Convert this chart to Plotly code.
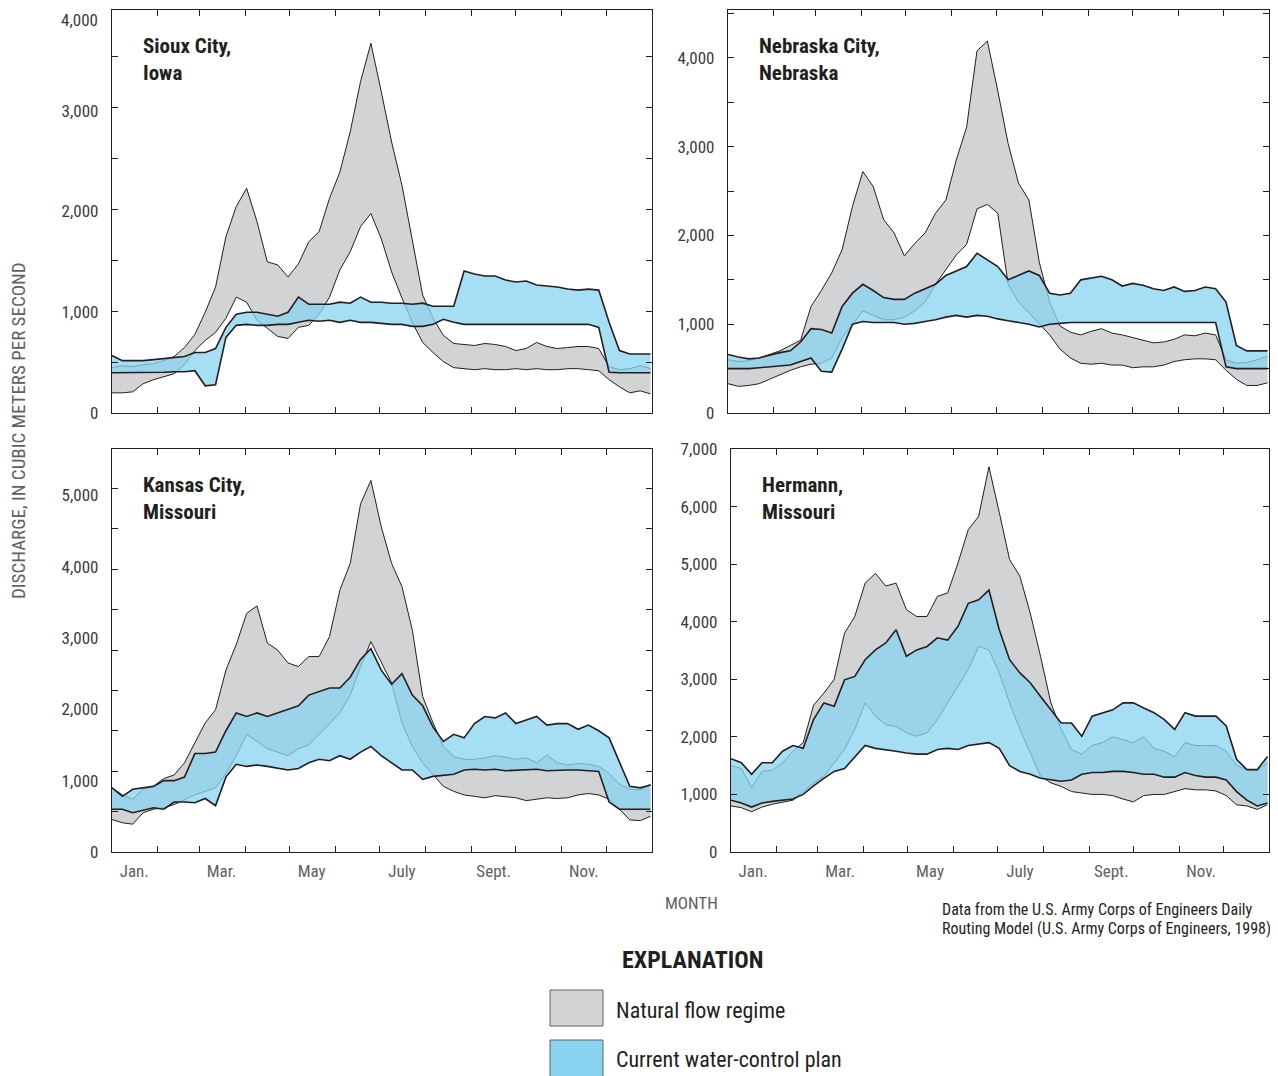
import plotly.graph_objects as go

# ---------------- data (day of year, weekly readings, cubic meters per second) ----------------
days = list(range(0, 365, 7))  # 53 readings

month_starts = [0, 31, 59, 90, 120, 151, 181, 212, 243, 273, 304, 334, 365]
month_label_days = [15, 74, 135, 196, 258, 319]
month_labels = ["Jan.", "Mar.", "May", "July", "Sept.", "Nov."]

# Sioux City, Iowa
sioux_nat_low = [200, 200, 210, 290, 330, 360, 390, 480, 620, 720,
                 800, 940, 1150, 1100, 920, 840, 760, 740, 850, 870,
                 980, 1150, 1420, 1600, 1850, 1980, 1730, 1400, 1140, 900,
                 700, 600, 510, 450, 440, 430, 440, 430, 430, 440,
                 430, 440, 430, 430, 440, 440, 430, 420, 330, 260,
                 200, 220, 190]
sioux_nat_high = [450, 470, 460, 480, 490, 520, 560, 650, 780, 1000,
                  1250, 1750, 2050, 2230, 1900, 1500, 1470, 1350, 1480, 1700,
                  1800, 2130, 2390, 2790, 3290, 3670, 3190, 2690, 2260, 1730,
                  1170, 940, 770, 690, 680, 670, 690, 680, 660, 620,
                  640, 700, 660, 640, 650, 660, 660, 640, 460, 430,
                  440, 470, 440]
sioux_cur_low = [400, 400, 400, 400, 400, 405, 410, 410, 420, 270,
                 280, 750, 870, 880, 870, 870, 880, 880, 900, 920,
                 910, 920, 900, 920, 900, 900, 890, 880, 880, 860,
                 860, 880, 930, 900, 880, 880, 880, 880, 880, 880,
                 880, 880, 880, 880, 880, 880, 880, 850, 405, 400,
                 400, 400, 400]
sioux_cur_high = [570, 520, 520, 520, 530, 540, 550, 560, 600, 600,
                  640, 850, 980, 1000, 1000, 980, 960, 1000, 1150, 1080,
                  1080, 1080, 1100, 1090, 1150, 1100, 1100, 1090, 1090, 1080,
                  1090, 1060, 1060, 1060, 1410, 1380, 1360, 1360, 1320, 1300,
                  1310, 1270, 1260, 1250, 1230, 1220, 1230, 1220, 900, 620,
                  585, 585, 585]

# Nebraska City, Nebraska
nebr_nat_low = [330, 300, 310, 330, 380, 430, 480, 520, 550, 560,
                620, 850, 1000, 1150, 1100, 1050, 1050, 1080, 1150, 1250,
                1450, 1620, 1780, 1900, 2300, 2350, 2250, 1450, 1250, 1130,
                1000, 880, 720, 620, 560, 550, 560, 540, 540, 510,
                520, 520, 540, 580, 600, 610, 610, 600, 480, 380,
                310, 310, 340]
nebr_nat_high = [600, 580, 590, 620, 660, 700, 760, 820, 1200, 1380,
                 1580, 1840, 2330, 2720, 2550, 2180, 2030, 1770, 1910, 2030,
                 2250, 2400, 2850, 3220, 4080, 4190, 3630, 3035, 2590, 2400,
                 1700, 1250, 980, 910, 880, 920, 950, 900, 880, 850,
                 820, 790, 800, 830, 880, 870, 900, 880, 600, 560,
                 570, 600, 640]
nebr_cur_low = [500, 500, 500, 510, 520, 530, 540, 580, 620, 470,
                460, 720, 1000, 1030, 1020, 1020, 1020, 1000, 1010, 1030,
                1050, 1080, 1100, 1080, 1100, 1090, 1060, 1040, 1020, 1000,
                970, 1000, 1010, 1020, 1020, 1020, 1020, 1020, 1020, 1020,
                1020, 1020, 1020, 1020, 1020, 1020, 1020, 1020, 520, 500,
                500, 500, 500]
nebr_cur_high = [660, 630, 610, 620, 650, 680, 700, 800, 950, 940,
                 900, 1200, 1350, 1450, 1380, 1300, 1280, 1280, 1350, 1400,
                 1450, 1550, 1600, 1650, 1800, 1720, 1650, 1500, 1550, 1600,
                 1550, 1350, 1330, 1350, 1500, 1520, 1540, 1500, 1430, 1460,
                 1440, 1400, 1380, 1420, 1370, 1380, 1420, 1400, 1250, 760,
                 700, 700, 700]

# Kansas City, Missouri
kc_nat_low = [455, 410, 390, 550, 600, 620, 665, 735, 800, 850,
              900, 1100, 1350, 1650, 1550, 1450, 1400, 1350, 1450, 1500,
              1650, 1800, 1950, 2200, 2600, 2950, 2650, 2370, 1810, 1480,
              1250, 1080, 920, 850, 800, 780, 760, 790, 770, 760,
              720, 740, 760, 750, 760, 800, 820, 800, 740, 600,
              450, 440, 500]
kc_nat_high = [900, 800, 740, 880, 920, 1030, 1080, 1250, 1530, 1810,
               1995, 2550, 2910, 3345, 3450, 2930, 2830, 2650, 2600, 2740,
               2740, 3020, 3670, 4045, 4880, 5210, 4560, 4045, 3720, 3110,
               2180, 1810, 1480, 1340, 1300, 1300, 1320, 1350, 1330, 1300,
               1320, 1250, 1360, 1250, 1220, 1240, 1230, 1200, 1100, 950,
               880, 870, 950]
kc_cur_low = [600, 600, 550, 580, 620, 600, 700, 700, 690, 750,
              650, 1050, 1230, 1200, 1220, 1200, 1180, 1150, 1170, 1250,
              1300, 1280, 1350, 1300, 1400, 1480, 1350, 1250, 1150, 1150,
              1020, 1060, 1080, 1090, 1150, 1160, 1150, 1160, 1140, 1150,
              1150, 1160, 1140, 1150, 1150, 1150, 1140, 1130, 700, 600,
              600, 600, 600]
kc_cur_high = [900, 780, 880, 900, 920, 1000, 1000, 1050, 1380, 1380,
               1400, 1700, 1950, 1900, 1950, 1900, 1950, 2000, 2050, 2200,
               2250, 2300, 2300, 2450, 2700, 2850, 2550, 2350, 2500, 2200,
               2050, 1750, 1550, 1650, 1600, 1800, 1900, 1880, 1950, 1800,
               1850, 1900, 1780, 1800, 1800, 1720, 1780, 1700, 1600, 1250,
               920, 900, 940]

# Hermann, Missouri
herm_nat_low = [800, 770, 700, 780, 830, 870, 900, 1050, 1200, 1320,
                1550, 1780, 2130, 2590, 2360, 2210, 2180, 2070, 2010, 2070,
                2300, 2590, 2880, 3170, 3570, 3510, 3110, 2590, 2130, 1720,
                1320, 1200, 1140, 1050, 1020, 1000, 1000, 980, 920, 870,
                980, 1000, 1000, 1050, 1100, 1080, 1080, 1060, 980, 820,
                800, 740, 820]
herm_nat_high = [1500, 1450, 1120, 1400, 1420, 1550, 1750, 1900, 2550, 2760,
                 3000, 3800, 4090, 4670, 4840, 4620, 4670, 4210, 4090, 4090,
                 4440, 4500, 5020, 5600, 5830, 6690, 5900, 5080, 4790, 4150,
                 3400, 2590, 2130, 1780, 1700, 1850, 1900, 2000, 1950, 1900,
                 2000, 1800, 1750, 1650, 1900, 1850, 1850, 1850, 1750, 1500,
                 1430, 1420, 1550]
herm_cur_low = [900, 850, 780, 850, 880, 900, 920, 1000, 1150, 1280,
                1400, 1450, 1650, 1850, 1800, 1780, 1750, 1720, 1700, 1700,
                1780, 1800, 1780, 1850, 1880, 1900, 1800, 1500, 1400, 1350,
                1280, 1250, 1230, 1250, 1350, 1380, 1380, 1400, 1400, 1380,
                1350, 1350, 1300, 1300, 1380, 1330, 1300, 1300, 1250, 1050,
                900, 800, 850]
herm_cur_high = [1620, 1550, 1350, 1550, 1550, 1750, 1850, 1800, 2300, 2590,
                 2530, 2990, 3050, 3340, 3510, 3630, 3860, 3400, 3510, 3570,
                 3720, 3680, 3920, 4320, 4380, 4550, 3860, 3340, 3110, 2940,
                 2700, 2470, 2240, 2240, 2010, 2360, 2420, 2470, 2590, 2590,
                 2500, 2420, 2300, 2130, 2420, 2360, 2360, 2360, 2190, 1610,
                 1430, 1430, 1660]

panel_titles = [("Sioux City,", "Iowa"), ("Nebraska City,", "Nebraska"),
                ("Kansas City,", "Missouri"), ("Hermann,", "Missouri")]
y_maxima = [4000, 4540, 5650, 7000]
y_label_step = 1000
cfs_tick_steps = [505, 500, 566.3, 1000]   # unlabeled inner ticks (cubic-feet-per-second grid)

# ---------------- styling / layout helpers ----------------
PAGE_OFFSET = 8                 # the html body margin shifts the figure by 8 px
W, H = 1278 - PAGE_OFFSET, 1076 - PAGE_OFFSET
FONT = "Liberation Sans Narrow, Roboto Condensed, DejaVu Sans Condensed, Roboto, sans-serif"
INK = "#231f20"
TICK_INK = "#3a3a3c"
SOFT = "#5f6062"
GRAY_FILL = "rgb(209,211,212)"
BLUE_SOLID = "rgb(138,212,241)"
BLUE_FILL = "rgba(138,212,241,0.76)"
TICKFONT = dict(family=FONT, size=17, color=TICK_INK)


def px(xp):
    return (xp - PAGE_OFFSET) / W


def py(yp):
    return 1 - (yp - PAGE_OFFSET) / H


# panel boxes in screen pixels: (left, right, top, bottom)
boxes = [(112, 652, 10, 413), (728, 1269, 10, 413),
         (112, 652, 449, 852), (731, 1269, 449, 852)]
show_month_labels = [False, False, True, True]

series = [
    (sioux_nat_low, sioux_nat_high, sioux_cur_low, sioux_cur_high),
    (nebr_nat_low, nebr_nat_high, nebr_cur_low, nebr_cur_high),
    (kc_nat_low, kc_nat_high, kc_cur_low, kc_cur_high),
    (herm_nat_low, herm_nat_high, herm_cur_low, herm_cur_high),
]

fig = go.Figure()
layout_axes = {}
annotations = []

for i, (nl, nh, cl, ch) in enumerate(series, start=1):
    sfx = "" if i == 1 else str(i)
    xa, ya = "x" + sfx, "y" + sfx
    common = dict(xaxis=xa, yaxis=ya, showlegend=False, hoverinfo="skip", mode="lines")

    # natural flow regime band
    fig.add_trace(go.Scatter(x=days, y=nl, line=dict(width=0, color=INK), **common))
    fig.add_trace(go.Scatter(x=days, y=nh, line=dict(width=0, color=INK),
                             fill="tonexty", fillcolor=GRAY_FILL, **common))
    for s in (nl, nh):
        fig.add_trace(go.Scatter(x=days, y=s, line=dict(width=1.0, color=INK), **common))

    # current water-control plan band (translucent)
    fig.add_trace(go.Scatter(x=days, y=cl, line=dict(width=0, color=INK), **common))
    fig.add_trace(go.Scatter(x=days, y=ch, line=dict(width=0, color=INK),
                             fill="tonexty", fillcolor=BLUE_FILL, **common))
    for s in (cl, ch):
        fig.add_trace(go.Scatter(x=days, y=s, line=dict(width=1.6, color=INK), **common))

    left, right, top, bottom = boxes[i - 1]
    dom_x = [px(left), min(px(right), 1.0)]
    dom_y = [py(bottom), min(py(top), 1.0)]
    ymax = y_maxima[i - 1]

    label_vals = list(range(0, ymax + 1, y_label_step))
    if label_vals[-1] == ymax and top < 20:
        # top label would be clipped at the page edge: place it as text just inside
        top_val = label_vals.pop()
        annotations.append(dict(
            text="{:,}".format(top_val), xref="paper", yref="paper",
            x=px(left - 13), y=py(PAGE_OFFSET + 1), xanchor="right", yanchor="top",
            borderpad=0, showarrow=False, font=TICKFONT))

    layout_axes["xaxis" + sfx] = dict(
        domain=dom_x, range=[0, 365], anchor=ya, automargin=False,
        tickmode="array", tickvals=month_label_days, ticktext=month_labels,
        showticklabels=show_month_labels[i - 1], ticks="",
        ticklabelstandoff=3,
        tickfont=dict(family=FONT, size=17, color=SOFT),
        showline=True, mirror=True, linecolor=INK, linewidth=1.3,
        showgrid=False, zeroline=False, fixedrange=True)
    layout_axes["yaxis" + sfx] = dict(
        domain=dom_y, range=[0, ymax], anchor=xa, automargin=False,
        tickmode="array", tickvals=label_vals,
        tickformat=",d", ticks="", ticklabelstandoff=9,
        tickfont=TICKFONT,
        showline=True, mirror=True, linecolor=INK, linewidth=1.3,
        showgrid=False, zeroline=False, fixedrange=True)

    j = str(i + 4)
    layout_axes["xaxis" + j] = dict(
        overlaying=xa, anchor=ya, range=[0, 365], automargin=False,
        tickmode="array", tickvals=month_starts, ticks="inside", ticklen=6,
        tickwidth=1.2, tickcolor=INK, mirror="ticks", showline=True,
        linecolor=INK, linewidth=1.3, showticklabels=False,
        showgrid=False, zeroline=False, fixedrange=True)
    layout_axes["yaxis" + j] = dict(
        overlaying=ya, anchor=xa, range=[0, ymax], automargin=False,
        tickmode="linear", tick0=0, dtick=cfs_tick_steps[i - 1],
        ticks="inside", ticklen=6, tickwidth=1.2, tickcolor=INK,
        mirror="ticks", showline=True, linecolor=INK, linewidth=1.3,
        showticklabels=False, showgrid=False, zeroline=False, fixedrange=True)
    # empty traces so the overlay tick axes are registered
    fig.add_trace(go.Scatter(x=[], y=[], xaxis="x" + j, yaxis=ya, showlegend=False))
    fig.add_trace(go.Scatter(x=[], y=[], xaxis=xa, yaxis="y" + j, showlegend=False))

    # panel titles
    t1, t2 = panel_titles[i - 1]
    for k, txt in enumerate((t1, t2)):
        annotations.append(dict(
            text="<b>%s</b>" % txt, xref="paper", yref="paper",
            x=px(left + 29), y=py(top + 36 + 27 * k),
            xanchor="left", yanchor="middle", showarrow=False,
            font=dict(family=FONT, size=21, color=INK)))

# axis titles & notes
annotations += [
    dict(text="DISCHARGE, IN CUBIC METERS PER SECOND", textangle=-90,
         xref="paper", yref="paper", x=px(18), y=py(431), showarrow=False,
         xanchor="center", yanchor="middle",
         font=dict(family=FONT, size=19, color=SOFT)),
    dict(text="MONTH", xref="paper", yref="paper", x=px(691), y=py(903),
         showarrow=False, xanchor="center", yanchor="middle",
         font=dict(family=FONT, size=17, color=SOFT)),
    dict(text="Data from the U.S. Army Corps of Engineers Daily",
         xref="paper", yref="paper", x=px(940), y=py(909), showarrow=False,
         xanchor="left", yanchor="middle", font=dict(family=FONT, size=16, color=INK)),
    dict(text="Routing Model (U.S. Army Corps of Engineers, 1998)",
         xref="paper", yref="paper", x=px(940), y=py(928), showarrow=False,
         xanchor="left", yanchor="middle", font=dict(family=FONT, size=16, color=INK)),
    dict(text="<b>EXPLANATION</b>", xref="paper", yref="paper", x=px(692), y=py(960),
         showarrow=False, xanchor="center", yanchor="middle",
         font=dict(family=FONT, size=24, color=INK)),
    dict(text="Natural flow regime", xref="paper", yref="paper", x=px(614), y=py(1010),
         showarrow=False, xanchor="left", yanchor="middle",
         font=dict(family=FONT, size=22, color=INK)),
    dict(text="Current water-control plan", xref="paper", yref="paper", x=px(614), y=py(1059),
         showarrow=False, xanchor="left", yanchor="middle",
         font=dict(family=FONT, size=22, color=INK)),
]

shapes = [
    dict(type="rect", xref="paper", yref="paper", x0=px(550), x1=px(603),
         y0=py(1026), y1=py(990), fillcolor=GRAY_FILL,
         line=dict(color=SOFT, width=1)),
    dict(type="rect", xref="paper", yref="paper", x0=px(550), x1=px(603),
         y0=py(1078), y1=py(1040), fillcolor=BLUE_SOLID,
         line=dict(color=SOFT, width=1)),
]

fig.update_layout(
    width=W, height=H,
    margin=dict(l=0, r=0, t=0, b=0, pad=0, autoexpand=False),
    paper_bgcolor="white", plot_bgcolor="rgba(0,0,0,0)",
    showlegend=False, hovermode=False,
    annotations=annotations, shapes=shapes,
    font=dict(family=FONT, color=INK),
    **layout_axes,
)

fig.write_html("out.html")
